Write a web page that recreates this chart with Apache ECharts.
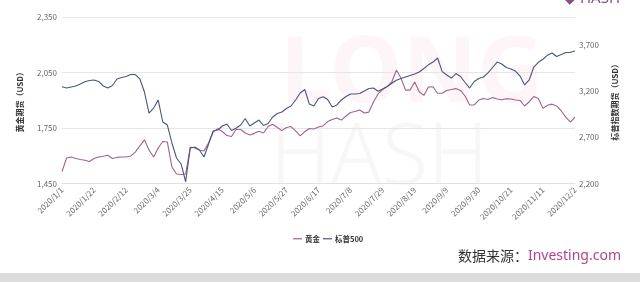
<!DOCTYPE html>
<html>
<head>
<meta charset="utf-8">
<script src="https://cdn.jsdelivr.net/npm/echarts@6/dist/echarts.min.js"></script>
<style>
html,body{margin:0;padding:0;background:#fff;}
#chart{width:640px;height:282px;}
</style>
</head>
<body>
<div id="chart"></div>
<script>
// ---- data ----
var startDate = [2020, 1, 1];
var stepDays = 3;
var goldName = '黄金';
var spxName = '标普500';
var goldAxisName = '黄金期货（USD）';
var spxAxisName = '标普指数期货（USD）';
var goldTicks = [1450, 1750, 2050, 2350];
var spxTicks = [2200, 2700, 3200, 3700];
var goldValues = [
  1514,1588,1593,1585,1580,1576,1569,1585,1593,1597,
  1603,1585,1591,1593,1593,1599,1620,1653,1686,1631,
  1593,1642,1677,1674,1539,1501,1499,1501,1647,1642,
  1631,1626,1669,1728,1746,1731,1709,1704,1742,1742,
  1723,1712,1721,1733,1723,1758,1770,1753,1736,1753,
  1758,1734,1707,1730,1747,1745,1755,1761,1785,1796,
  1804,1793,1815,1834,1839,1847,1831,1836,1891,1934,
  1958,1974,1999,2063,2020,1955,1955,1999,1946,1926,
  1972,1973,1938,1938,1953,1958,1963,1953,1923,1874,
  1875,1901,1909,1904,1915,1907,1903,1908,1907,1901,
  1899,1869,1892,1920,1909,1856,1873,1879,1869,1842,
  1809,1782,1809
];
var spxValues = [
  3246,3232,3243,3254,3276,3300,3313,3319,3303,3254,
  3232,3259,3330,3346,3357,3378,3378,3330,3189,2962,
  3016,3103,2865,2832,2638,2476,2411,2219,2584,2595,
  2562,2486,2627,2768,2778,2822,2843,2773,2797,2832,
  2903,2822,2854,2886,2827,2849,2919,2957,2973,3011,
  3038,3103,3178,3216,3059,3038,3119,3138,3108,3027,
  3049,3103,3140,3167,3167,3173,3200,3227,3232,3198,
  3222,3249,3283,3317,3335,3351,3367,3384,3405,3443,
  3483,3513,3557,3409,3373,3340,3389,3357,3292,3232,
  3303,3335,3351,3395,3454,3513,3492,3454,3438,3416,
  3362,3265,3319,3459,3510,3543,3587,3611,3573,3594,
  3616,3618,3632
];
// categories: one every 3 calendar days starting 2020/1/1
var categories = [];
(function(){
  var d = new Date(Date.UTC(startDate[0], startDate[1]-1, startDate[2]));
  for (var i = 0; i < goldValues.length; i++) {
    categories.push(d.getUTCFullYear() + '/' + (d.getUTCMonth()+1) + '/' + d.getUTCDate());
    d = new Date(d.getTime() + stepDays*86400000);
  }
})();

function comma(v){ return String(v).replace(/\B(?=(\d{3})+(?!\d))/g, ','); }

var goldColor = '#a0628f';
var spxColor = '#4a5778';
var font = '"Noto Sans CJK SC", sans-serif';

var chart = echarts.init(document.getElementById('chart'), null, {renderer:'canvas'});
chart.setOption({
  animation: false,
  backgroundColor: '#fff',
  textStyle: {fontFamily: font},
  graphic: [
    {type:'text', left: 280, top: 30, z: -10, silent: true,
     style:{text:'LONG', font:'bold 92px "Noto Sans", sans-serif', fill:'rgba(236,160,190,0.10)'}},
    {type:'text', left: 270, top: 118, z: -10, silent: true,
     style:{text:'HASH', font:'300 84px "Noto Sans", sans-serif', fill:'rgba(200,200,205,0.14)'}},
    {type:'rect', left: 0, top: 273, z: -5, shape:{width:640, height:9}, style:{fill:'#dcdcdc'}},
    {type:'text', right: 19, top: 249, style:{
      text:'{a|数据来源：}{b|Investing.com}',
      rich:{
        a:{fontSize:14, fill:'#333', fontFamily: font},
        b:{fontSize:14, fill:'#b4448a', fontFamily: '"Noto Sans", sans-serif'}
      }
    }},
    {type:'text', right: 20, top: -9, style:{text:'◆ HASH', font:'15px "Noto Sans", sans-serif', fill:'#8a4d8a'}}
  ],
  legend: {
    data: [goldName, spxName],
    left: 288, top: 230,
    itemWidth: 9, itemHeight: 1.2, itemGap: 3,
    icon: 'rect',
    textStyle: {fontSize: 7.5, color: '#333', fontWeight: 'bold', padding:[0,0,0,-2]}
  },
  grid: {left: 62, right: 65, top: 17, bottom: 98.5, containLabel: false},
  xAxis: {
    type: 'category',
    data: categories,
    boundaryGap: false,
    axisLine: {show: true, lineStyle: {color: '#e2e2e2'}},
    axisTick: {show: false},
    axisLabel: {interval: 6, rotate: 45, fontSize: 8, color: '#666', margin: 5},
    splitLine: {show: false}
  },
  yAxis: [
    {
      type: 'value', min: goldTicks[0], max: goldTicks[goldTicks.length-1], interval: 300,
      name: goldAxisName, nameLocation: 'middle', nameGap: 38, nameRotate: 90,
      nameTextStyle: {fontSize: 8, color: '#333', fontWeight: 'bold'},
      axisLine: {show: false}, axisTick: {show: false},
      axisLabel: {fontSize: 8, color: '#666', margin: 5, formatter: function(v){ return comma(v); }},
      splitLine: {show: true, lineStyle: {color: '#e6e6e6', width: 1}}
    },
    {
      type: 'value', min: spxTicks[0], max: 4000, interval: 500,
      name: spxAxisName, nameLocation: 'middle', nameGap: 36, nameRotate: 90,
      nameTextStyle: {fontSize: 8, color: '#333', fontWeight: 'bold'},
      axisLine: {show: false}, axisTick: {show: false},
      axisLabel: {fontSize: 8, color: '#666', margin: 4, formatter: function(v){
        return spxTicks.indexOf(v) >= 0 ? comma(v) : '';
      }},
      splitLine: {show: false}
    }
  ],
  series: [
    {name: goldName, type: 'line', yAxisIndex: 0, data: goldValues, showSymbol: false,
     color: goldColor, lineStyle: {width: 1.1, color: goldColor}},
    {name: spxName, type: 'line', yAxisIndex: 1, data: spxValues, showSymbol: false,
     color: spxColor, lineStyle: {width: 1.1, color: spxColor}}
  ]
});
</script>
</body>
</html>
